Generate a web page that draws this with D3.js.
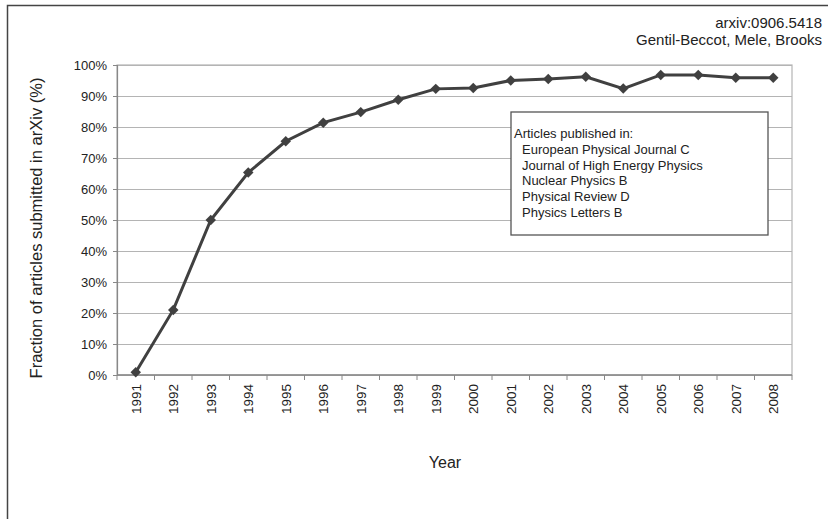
<!DOCTYPE html>
<html>
<head>
<meta charset="utf-8">
<script src="https://cdn.jsdelivr.net/npm/d3@7"></script>
<style>
  body { margin: 0; background: #fff; }
  svg text { font-family: "Liberation Sans", Arial, sans-serif; fill: #222; }
</style>
</head>
<body>
<div id="chart"></div>
<script>
// Dados
const years = ['1991','1992','1993','1994','1995','1996','1997','1998','1999','2000',
               '2001','2002','2003','2004','2005','2006','2007','2008'];
const fraction = [0.9, 21, 50, 65.3, 75.4, 81.4, 84.8, 88.8, 92.3, 92.6,
                  95.0, 95.5, 96.2, 92.4, 96.8, 96.8, 95.9, 95.9];
const yTicks = [0, 10, 20, 30, 40, 50, 60, 70, 80, 90, 100];
const legendLines = ['European Physical Journal C', 'Journal of High Energy Physics',
                     'Nuclear Physics B', 'Physical Review D', 'Physics Letters B'];

const W = 828, H = 519;
const margin = {top: 65, right: 36, bottom: 144, left: 117};
const width = W - margin.left - margin.right;
const height = H - margin.top - margin.bottom;

const root = d3.select('#chart').append('svg')
    .attr('width', W)
    .attr('height', H);

// Moldura externa (só esquerda e topo visíveis)
root.append('path')
    .attr('d', `M7.5,${H} V5.5 H${W}`)
    .attr('fill', 'none')
    .attr('stroke', '#444')
    .attr('stroke-width', 1.5);

root.append('text')
    .attr('x', 822).attr('y', 28)
    .attr('text-anchor', 'end')
    .style('font-size', '15px')
    .text('arxiv:0906.5418');
root.append('text')
    .attr('x', 822).attr('y', 45)
    .attr('text-anchor', 'end')
    .style('font-size', '15px')
    .text('Gentil-Beccot, Mele, Brooks');

const svg = root.append('g')
    .attr('transform', `translate(${margin.left},${margin.top})`);

// Escalas
const x = d3.scaleBand().domain(years).range([0, width]);
const y = d3.scaleLinear().domain([0, 100]).range([height, 0]);

// Grade
svg.append('g')
    .call(d3.axisLeft(y).tickValues(yTicks).tickSize(-width).tickFormat(''))
    .call(g => g.select('.domain').remove())
    .selectAll('line')
    .attr('stroke', '#b4b4b4')
    .attr('stroke-width', 1.2);

// Borda da área do gráfico
svg.append('rect')
    .attr('width', width).attr('height', height)
    .attr('fill', 'none')
    .attr('stroke', '#b4b4b4')
    .attr('stroke-width', 1.2);

// Eixo Y
const yAxis = svg.append('g')
    .call(d3.axisLeft(y).tickValues(yTicks).tickSize(4).tickPadding(6).tickFormat(d => d + '%'));
yAxis.select('.domain').attr('stroke', '#888').attr('stroke-width', 1.2);
yAxis.selectAll('line').attr('stroke', '#888');
yAxis.selectAll('text').style('font-size', '13px').attr('fill', '#222');

// Eixo X com ticks nas bordas das categorias
const xAxis = svg.append('g')
    .attr('transform', `translate(0,${height})`);
xAxis.append('line')
    .attr('x1', 0).attr('x2', width)
    .attr('stroke', '#888').attr('stroke-width', 1.5);
xAxis.selectAll('.tick-mark')
    .data(years.concat(['end']))
    .enter().append('line')
    .attr('x1', (d, i) => i < years.length ? x(d) : width)
    .attr('x2', (d, i) => i < years.length ? x(d) : width)
    .attr('y1', 0).attr('y2', 5)
    .attr('stroke', '#888');
xAxis.selectAll('.tick-label')
    .data(years)
    .enter().append('text')
    .attr('transform', d => `translate(${x(d) + x.bandwidth() / 2 + 5},9) rotate(-90)`)
    .attr('text-anchor', 'end')
    .style('font-size', '13.5px')
    .text(d => d);

// Linha
const line = d3.line()
    .x((d, i) => x(years[i]) + x.bandwidth() / 2)
    .y(d => y(d));

svg.append('path')
    .datum(fraction)
    .attr('d', line)
    .attr('fill', 'none')
    .attr('stroke', '#404040')
    .attr('stroke-width', 3);

// Pontos (losangos)
svg.selectAll('.dot')
    .data(fraction)
    .enter().append('path')
    .attr('class', 'dot')
    .attr('d', d3.symbol().type(d3.symbolDiamond2).size(70))
    .attr('transform', (d, i) => `translate(${x(years[i]) + x.bandwidth() / 2},${y(d)})`)
    .attr('fill', '#404040');

// Legenda
const legend = svg.append('g')
    .attr('transform', `translate(${511 - margin.left},${112 - margin.top})`);
legend.append('rect')
    .attr('width', 257).attr('height', 123)
    .attr('fill', '#fff')
    .attr('stroke', '#555')
    .attr('stroke-width', 1.3);
legend.append('text')
    .attr('x', 3).attr('y', 26)
    .style('font-size', '13px')
    .text('Articles published in:');
legendLines.forEach((t, i) => {
    legend.append('text')
        .attr('x', 11).attr('y', 42 + i * 15.7)
        .style('font-size', '13px')
        .text(t);
});

// Título dos eixos
root.append('text')
    .attr('x', 445).attr('y', 468)
    .attr('text-anchor', 'middle')
    .style('font-size', '16px')
    .text('Year');

root.append('text')
    .attr('transform', `translate(42,${margin.top + height / 2 + 8}) rotate(-90)`)
    .attr('text-anchor', 'middle')
    .style('font-size', '16.5px')
    .text('Fraction of articles submitted in arXiv (%)');
</script>
</body>
</html>
